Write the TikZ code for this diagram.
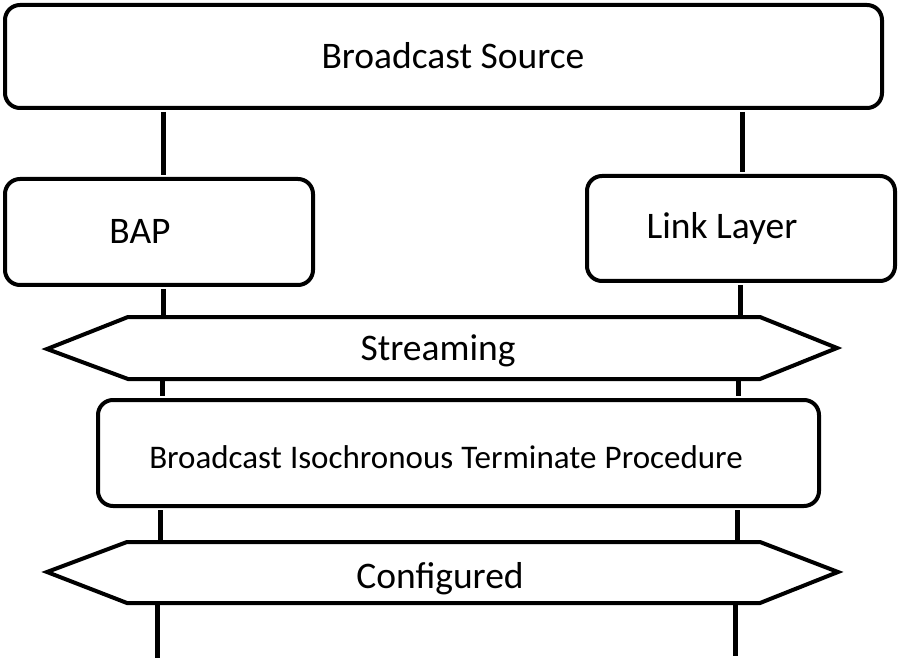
\documentclass[tikz,border=0pt]{standalone}
\usepackage{fontspec}
\setmainfont{Carlito}
\begin{document}
\begin{tikzpicture}[x=1pt,y=-1pt,
  box/.style={draw=black,line width=4pt,rounded corners=15pt,inner sep=0pt,fill=white},
  hex/.style={draw=black,line width=4pt,fill=white,line join=miter},
  life/.style={draw=black,line width=5pt},
  big/.style={font=\fontsize{37.5}{44}\selectfont},
  small/.style={font=\fontsize{33}{39}\selectfont}]
\useasboundingbox (0,0) rectangle (900,663);
% boxes
\node[box,minimum width=877pt,minimum height=103pt] (src) at (443.5,56.5) {};
\node[box,minimum width=308pt,minimum height=106pt] (bap) at (159,232) {};
\node[box,minimum width=308pt,minimum height=105pt] (ll) at (741,228.5) {};
\node[box,minimum width=721pt,minimum height=106pt] (proc) at (458.5,453) {};
% hexagons
\draw[hex] (47,349) coordinate (s1) -- (128,317) coordinate (s2) -- (760,317) coordinate (s3)
  -- (837,348) coordinate (s4) -- (760,379) coordinate (s5) -- (128,379) coordinate (s6) -- cycle;
\draw[hex] (47,572) coordinate (c1) -- (127,542) coordinate (c2) -- (760,542) coordinate (c3)
  -- (838,572) coordinate (c4) -- (760,603) coordinate (c5) -- (127,603) coordinate (c6) -- cycle;
% lifeline x positions
\coordinate (La) at (163,0); \coordinate (Lb) at (162,0); \coordinate (Lc) at (160,0); \coordinate (Ld) at (157,0);
\coordinate (Ra) at (742,0); \coordinate (Rb) at (740,0); \coordinate (Rc) at (738,0); \coordinate (Rd) at (737,0); \coordinate (Re) at (735,0);
\coordinate (Lend) at (157,658); \coordinate (Rend) at (735,656);
% lifelines
\draw[life] ([yshift=-2pt]src.south -| La) -- ([yshift=2pt]bap.north -| La);
\draw[life] ([yshift=-2pt]bap.south -| La) -- ([yshift=2pt]s2 -| La);
\draw[life] ([yshift=-2pt]s6 -| Lb) -- ([yshift=2pt]proc.north -| Lb);
\draw[life] ([yshift=-2pt]proc.south -| Lc) -- ([yshift=2pt]c2 -| Lc);
\draw[life] ([yshift=-2pt]c6 -| Ld) -- (Lend);
\draw[life] ([yshift=-2pt]src.south -| Ra) -- ([yshift=2pt]ll.north -| Ra);
\draw[life] ([yshift=-2pt]ll.south -| Rb) -- ([yshift=2pt]s3 -| Rb);
\draw[life] ([yshift=-2pt]s5 -| Rc) -- ([yshift=2pt]proc.north -| Rc);
\draw[life] ([yshift=-2pt]proc.south -| Rd) -- ([yshift=2pt]c3 -| Rd);
\draw[life] ([yshift=-2pt]c5 -| Re) -- (Rend);
% texts
\node[big] (tsrc) at (453,56) {Broadcast Source};
\node[big] (tbap) at (140,231) {BAP};
\node[big] (tll) at (722,229) {Link Layer};
\node[big] (tstr) at (438,351) {Streaming};
\node[small] (tproc) at (446,457) {Broadcast\hspace{0.25em}Isochronous\hspace{0.25em}Terminate\hspace{0.25em}Procedure};
\node[big] (tconf) at (440,579) {Configured};
\end{tikzpicture}
\end{document}
